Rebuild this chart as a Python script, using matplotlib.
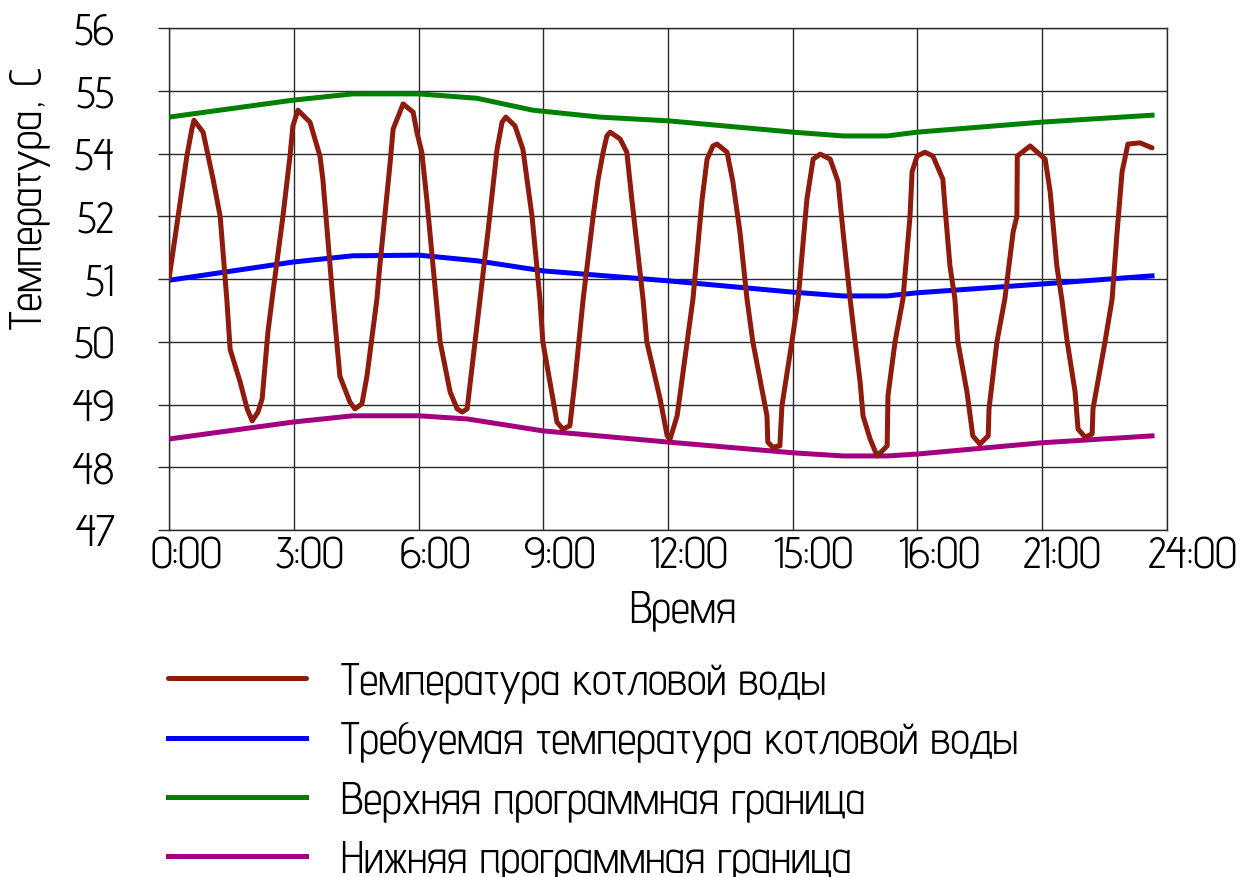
import matplotlib
matplotlib.use("Agg")
import matplotlib.pyplot as plt
from matplotlib import font_manager
from matplotlib.transforms import ScaledTranslation

# ---------------- data ----------------
x_ticks = [0, 3, 6, 9, 12, 15, 18, 21, 24]
x_tick_labels = ["0:00", "3:00", "6:00", "9:00", "12:00", "15:00", "16:00", "21:00", "24:00"]
y_ticks = [47, 48, 49, 50, 51, 52, 53, 54, 55]
y_tick_labels = ["47", "48", "49", "50", "51", "52", "54", "55", "56"]

series_labels = [
    "Температура котловой воды",
    "Требуемая температура котловой воды",
    "Верхняя программная граница",
    "Нижняя программная граница",
]

boiler_t = [0.00, 0.43, 0.55, 0.60, 0.82, 1.06, 1.23, 1.39, 1.47, 1.71, 1.88, 2.00, 2.14, 2.24,
            2.38, 2.50, 2.74, 2.91, 2.98, 3.10, 3.39, 3.63, 3.70, 3.94, 4.11, 4.35, 4.47, 4.64,
            4.76, 5.00, 5.07, 5.31, 5.39, 5.63, 5.87, 5.96, 6.08, 6.20, 6.35, 6.52, 6.76, 6.93,
            7.05, 7.17, 7.29, 7.48, 7.67, 7.89, 8.01, 8.10, 8.32, 8.51, 8.73, 8.92, 8.99, 9.16,
            9.33, 9.47, 9.64, 9.76, 9.96, 10.20, 10.32, 10.44, 10.53, 10.61, 10.85, 11.01, 11.13,
            11.40, 11.49, 11.81, 11.98, 12.05, 12.22, 12.46, 12.60, 12.82, 12.94, 13.08, 13.18,
            13.42, 13.56, 13.73, 13.90, 14.04, 14.38, 14.40, 14.52, 14.69, 14.74, 14.98, 15.13,
            15.34, 15.49, 15.66, 15.90, 16.09, 16.21, 16.38, 16.50, 16.62, 16.69, 16.86, 17.03,
            17.27, 17.29, 17.46, 17.65, 17.82, 17.87, 17.99, 18.18, 18.37, 18.61, 18.66, 18.78,
            18.90, 18.97, 19.19, 19.33, 19.50, 19.70, 19.72, 19.91, 20.10, 20.30, 20.39, 20.40,
            20.71, 21.07, 21.19, 21.35, 21.47, 21.60, 21.79, 21.86, 22.03, 22.20, 22.22, 22.51,
            22.68, 22.80, 22.92, 23.06, 23.35, 23.64]
boiler_v = [51.00, 52.96, 53.39, 53.53, 53.34, 52.59, 52.00, 50.68, 49.88, 49.36, 48.93, 48.74,
            48.88, 49.09, 50.16, 50.79, 52.00, 52.96, 53.44, 53.69, 53.50, 52.96, 52.59, 50.68,
            49.45, 49.04, 48.93, 49.01, 49.45, 50.68, 51.21, 52.80, 53.39, 53.79, 53.66, 53.34,
            53.02, 52.27, 51.21, 50.00, 49.20, 48.93, 48.88, 48.93, 49.61, 50.68, 51.75, 53.07,
            53.50, 53.58, 53.44, 53.07, 52.00, 50.68, 50.00, 49.36, 48.72, 48.61, 48.66, 49.36,
            50.68, 52.00, 52.59, 53.02, 53.28, 53.34, 53.23, 53.02, 52.27, 50.68, 50.00, 49.09,
            48.50, 48.45, 48.82, 50.00, 50.68, 52.27, 52.91, 53.12, 53.15, 53.02, 52.55, 51.75,
            50.68, 50.00, 48.82, 48.40, 48.32, 48.34, 48.98, 50.00, 50.68, 52.27, 52.91, 52.99,
            52.91, 52.55, 51.75, 50.68, 50.00, 49.36, 48.82, 48.45, 48.18, 48.34, 49.14, 50.00,
            50.68, 52.00, 52.71, 52.96, 53.02, 52.96, 52.59, 52.16, 51.21, 50.68, 50.00, 49.20,
            48.50, 48.37, 48.50, 48.93, 50.00, 50.68, 51.75, 52.00, 52.96, 53.12, 52.91, 52.39,
            51.21, 50.68, 50.00, 49.20, 48.61, 48.48, 48.53, 48.93, 50.00, 50.68, 51.75, 52.71,
            53.15, 53.17, 53.09]

bound_t = [0.00, 2.98, 4.42, 6.01, 7.41, 8.75, 10.36, 12.02, 15.01, 16.21, 17.27, 17.99, 20.99, 23.64]
upper_v = [53.58, 53.85, 53.95, 53.95, 53.88, 53.69, 53.58, 53.52, 53.34, 53.28, 53.28, 53.34, 53.50, 53.61]

req_t = [0.00, 2.98, 4.42, 6.01, 7.41, 8.99, 12.02, 15.01, 16.21, 17.27, 17.99, 20.99, 23.64]
required_v = [50.98, 51.27, 51.37, 51.38, 51.29, 51.13, 50.97, 50.79, 50.73, 50.73, 50.78, 50.92, 51.05]

low_t = [0.00, 2.98, 4.42, 6.01, 7.17, 8.99, 12.02, 15.01, 16.21, 17.27, 17.99, 20.99, 23.64]
lower_v = [48.45, 48.72, 48.82, 48.82, 48.77, 48.58, 48.40, 48.23, 48.18, 48.18, 48.21, 48.39, 48.50]

colors = ["#8e1b0d", "#0000ff", "#008000", "#a3007f"]

# ---------------- font ----------------
def pick_font(cands):
    for c in cands:
        try:
            font_manager.findfont(font_manager.FontProperties(family=c), fallback_to_default=False)
            return c
        except Exception:
            pass
    return "DejaVu Sans"

main_font = pick_font(["Advent Pro", "Liberation Sans Narrow", "Roboto Condensed", "DejaVu Sans"])
plt.rcParams["font.family"] = [main_font, "DejaVu Sans"]

W, H = 1255, 878
fig = plt.figure(figsize=(W / 100, H / 100), dpi=100)
fig.patch.set_facecolor("white")

L, R, T, B = 169, 1167, 29, 531
ax = fig.add_axes([L / W, 1 - B / H, (R - L) / W, (B - T) / H])

FS = 32
lw = 3.6
l1, = ax.plot(boiler_t, boiler_v, color=colors[0], lw=lw, solid_joinstyle="round", solid_capstyle="round", zorder=5)
l2, = ax.plot(req_t, required_v, color=colors[1], lw=lw, solid_joinstyle="round", zorder=4)
l3, = ax.plot(bound_t, upper_v, color=colors[2], lw=lw, solid_joinstyle="round", zorder=4)
l4, = ax.plot(low_t, lower_v, color=colors[3], lw=lw, solid_joinstyle="round", zorder=4)

ax.set_xlim(0, 24)
ax.set_ylim(47, 55)
ax.set_xticks(x_ticks)
ax.set_xticklabels(x_tick_labels, fontsize=FS)
ax.set_yticks(y_ticks)
ax.set_yticklabels(y_tick_labels, fontsize=FS)

gcol = "#2a2a2a"
ax.grid(True, color=gcol, lw=1.0, zorder=1)
for s in ax.spines.values():
    s.set_color(gcol)
    s.set_linewidth(1.0)
ax.tick_params(axis="x", length=0, pad=5)
ax.tick_params(axis="y", length=8, width=1.0, color=gcol, pad=31)

off = ScaledTranslation(-19 / 100, 0, fig.dpi_scale_trans)
for lab in ax.get_xticklabels():
    lab.set_horizontalalignment("left")
    lab.set_transform(lab.get_transform() + off)

fig.text(683 / W, 1 - 623 / H, "Время", fontsize=FS, ha="center", va="baseline")
fig.text(31 / W, 1 - 198 / H, "Температура, С", fontsize=FS, rotation=90, ha="center", va="center")

leg = fig.legend([l1, l2, l3, l4], series_labels, loc="upper left",
                 bbox_to_anchor=(168 / W, 1 - 663 / H), frameon=False, fontsize=FS,
                 borderpad=0, borderaxespad=0, handlelength=3.1, handletextpad=0.8,
                 labelspacing=0.41)

fig.savefig("out.png", dpi=100, facecolor="white")
